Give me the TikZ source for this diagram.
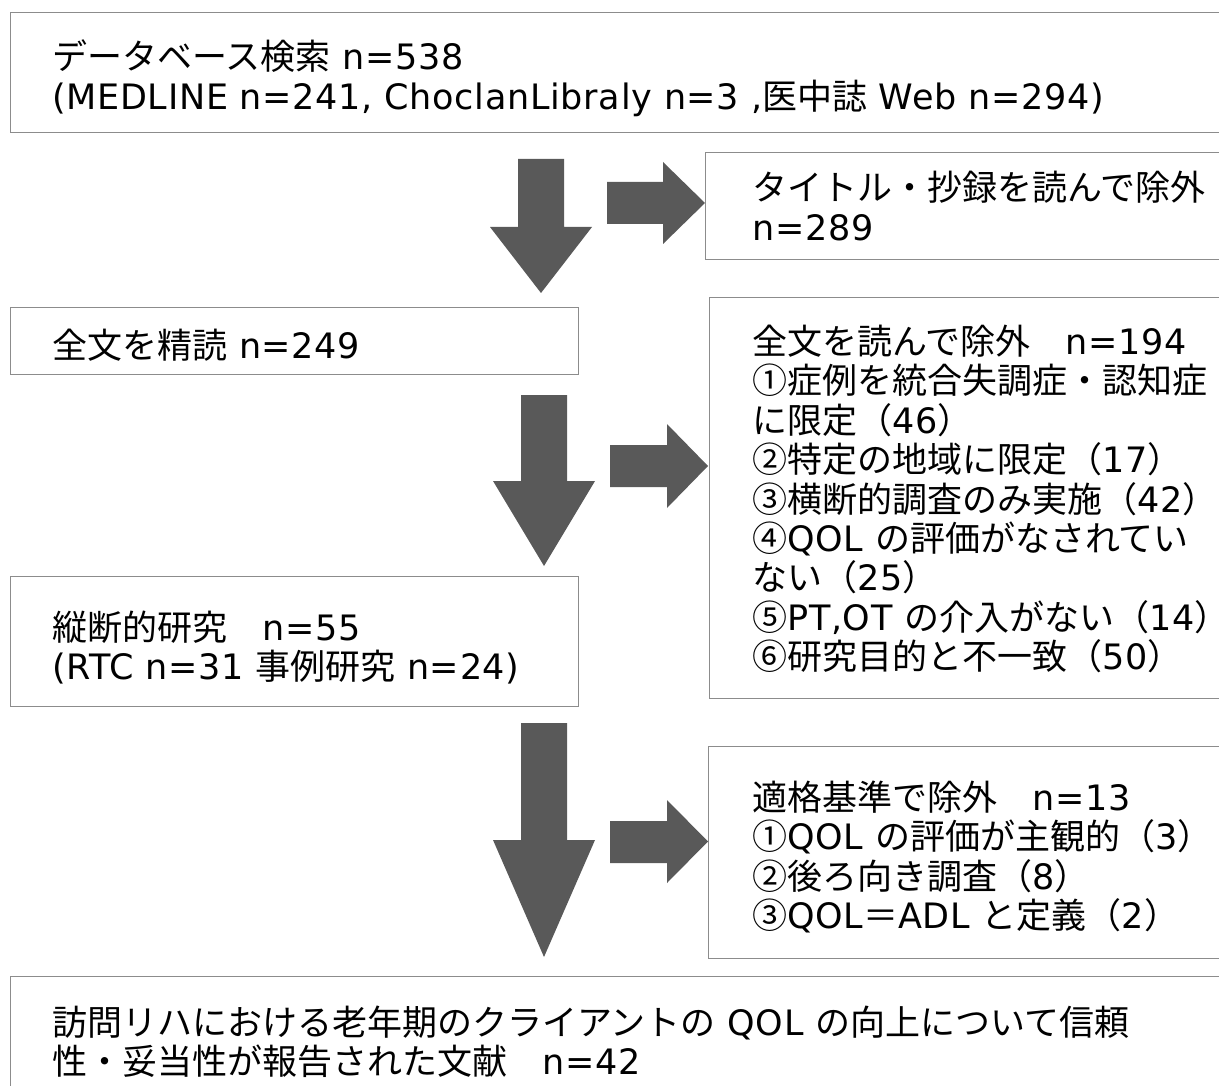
\documentclass[tikz,border=0pt]{standalone}
\usepackage{fontspec}
\setmainfont{DejaVu Sans}[LetterSpace=2]
\newfontfamily\jp{Noto Sans CJK JP}
\definecolor{boxline}{HTML}{8C8C8C}
\definecolor{arrowfill}{HTML}{595959}
\tikzset{
  box/.style={draw=boxline, line width=1.4pt, fill=white, rectangle, inner sep=0pt, anchor=north west},
  txt/.style={inner sep=0pt, anchor=base west, font=\fontsize{35}{39.5}\selectfont, text=black},
  blockarrow/.style={fill=arrowfill, draw=none}
}
% down arrow: #1 shaft left, #2 shaft right, #3 shaft top, #4 head top, #5 head left, #6 head right, #7 tip y
\newcommand{\dnarrow}[7]{%
  \fill[blockarrow] (#1,#3) -- (#2,#3) -- (#2,#4) -- (#6,#4) -- ({(#5+#6)/2},#7) -- (#5,#4) -- (#1,#4) -- cycle;}
% right arrow: #1 shaft left, #2 head base x, #3 shaft top, #4 shaft bottom, #5 head top, #6 head bottom, #7 tip x
\newcommand{\rtarrow}[7]{%
  \fill[blockarrow] (#1,#3) -- (#2,#3) -- (#2,#5) -- (#7,{(#5+#6)/2}) -- (#2,#6) -- (#2,#4) -- (#1,#4) -- cycle;}
\begin{document}
\begin{tikzpicture}[x=1pt,y=-1pt]
\useasboundingbox (0,0) rectangle (1219,1086);
\clip (0,0) rectangle (1219,1086);

% boxes
\node[box, minimum width=1230pt, minimum height=120pt] (db) at (10,12) {};
\node[box, minimum width=530pt, minimum height=107pt] (ex1) at (705,152) {};
\node[box, minimum width=568pt, minimum height=67pt] (full) at (10,307) {};
\node[box, minimum width=525pt, minimum height=401pt] (ex2) at (709,297) {};
\node[box, minimum width=568pt, minimum height=130pt] (longi) at (10,576) {};
\node[box, minimum width=525pt, minimum height=212pt] (ex3) at (708,746) {};
\node[box, minimum width=1230pt, minimum height=130pt] (final) at (10,976) {};

% arrows
\dnarrow{518}{564}{159}{227}{490}{592}{293}
\rtarrow{607}{663}{182}{224}{162}{244}{705}
\dnarrow{521}{567}{395}{481}{493}{595}{566}
\rtarrow{610}{667}{445}{487}{424}{508}{708}
\dnarrow{521}{567}{723}{840}{493}{595}{957}
\rtarrow{610}{667}{821}{863}{800}{883}{708}

% texts
\node[txt] (tdb) at ([xshift=42pt,yshift=-58pt]db.north west) {\vtop{%
  \hbox{{\jp データベース検索} n=538}%
  \hbox{(MEDLINE n=241, ChoclanLibraly n=3 ,{\jp 医中誌} Web n=294)}}};
\node[txt] (tex1) at ([xshift=47pt,yshift=-49pt]ex1.north west) {\vtop{%
  \hbox{\jp タイトル・抄録を読んで除外}%
  \hbox{n=289}}};
\node[txt] (tfull) at ([xshift=42pt,yshift=-51pt]full.north west) {{\jp 全文を精読} n=249};
\node[txt] (tex2) at ([xshift=43pt,yshift=-57pt]ex2.north west) {\vtop{%
  \hbox{{\jp 全文を読んで除外　}n=194}%
  \hbox{\jp ①症例を統合失調症・認知症}%
  \hbox{{\jp に限定（}46{\jp ）}}%
  \hbox{{\jp ②特定の地域に限定（}17{\jp ）}}%
  \hbox{{\jp ③横断的調査のみ実施（}42{\jp ）}}%
  \hbox{{\jp ④}QOL {\jp の評価がなされてい}}%
  \hbox{{\jp ない（}25{\jp ）}}%
  \hbox{{\jp ⑤}PT,OT {\jp の介入がない（}14{\jp ）}}%
  \hbox{{\jp ⑥研究目的と不一致（}50{\jp ）}}}};
\node[txt] (tlongi) at ([xshift=42pt,yshift=-64pt]longi.north west) {\vtop{%
  \hbox{{\jp 縦断的研究　}n=55}%
  \hbox{(RTC n=31 {\jp 事例研究} n=24)}}};
\node[txt] (tex3) at ([xshift=44pt,yshift=-64pt]ex3.north west) {\vtop{%
  \hbox{{\jp 適格基準で除外　}n=13}%
  \hbox{{\jp ①}QOL {\jp の評価が主観的（}3{\jp ）}}%
  \hbox{{\jp ②後ろ向き調査（}8{\jp ）}}%
  \hbox{{\jp ③}QOL{\jp ＝}ADL {\jp と定義（}2{\jp ）}}}};
\node[txt] (tfinal) at ([xshift=42pt,yshift=-59pt]final.north west) {\vtop{%
  \hbox{{\jp 訪問リハにおける老年期のクライアントの} QOL {\jp の向上について信頼}}%
  \hbox{{\jp 性・妥当性が報告された文献　}n=42}}};
\end{tikzpicture}
\end{document}
